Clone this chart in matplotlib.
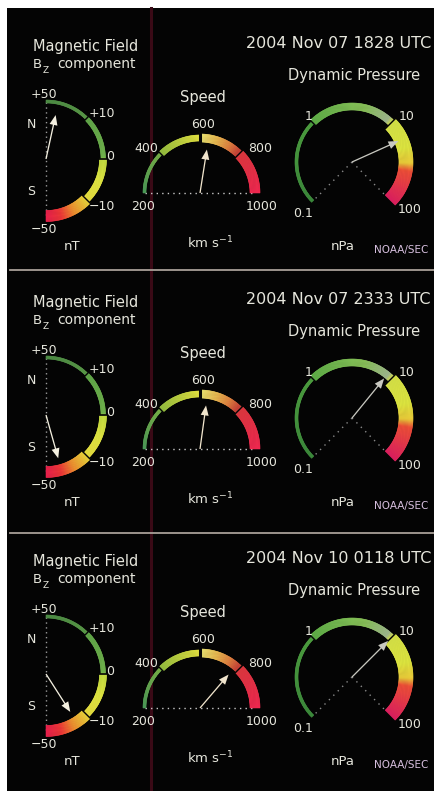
import numpy as np
import matplotlib
matplotlib.use("Agg")
import matplotlib.pyplot as plt
from matplotlib.patches import Polygon, Rectangle
from matplotlib.colors import LinearSegmentedColormap

# ---------------- data ----------------
timestamps = ["2004 Nov 07 1828 UTC", "2004 Nov 07 2333 UTC", "2004 Nov 10 0118 UTC"]
bz_values = [39, -36, -21]          # nT
speed_values = [640, 635, 780]      # km/s
pressure_values = [17, 8.6, 10]     # nPa

bz_ticks = [50, 10, 0, -10, -50]
bz_tick_labels = ["+50", "+10", "0", "\u221210", "\u221250"]
speed_ticks = [200, 400, 600, 800, 1000]
speed_tick_labels = ["200", "400", "600", "800", "1000"]
pressure_ticks = [0.1, 1, 10, 100]
pressure_tick_labels = ["0.1", "1", "10", "100"]

# ---------------- figure ----------------
W, H = 435, 791
fig = plt.figure(figsize=(W / 100, H / 100), dpi=100, facecolor="white")
ax = fig.add_axes([0, 0, 1, 1])
ax.set_xlim(0, W)
ax.set_ylim(H, 0)
ax.axis("off")
ax.add_patch(Rectangle((7, 8), W - 7, H - 8, facecolor="#040404", edgecolor="none", zorder=0))

TXT = "#e6e6dc"


def bz_angle(v):
    return np.interp(v, [-50, -10, 0, 10, 50], [-90, -45, 0, 45, 90])


def speed_angle(v):
    return np.interp(v, [200, 1000], [180, 0])


def pres_angle(v):
    return 135 - 90 * np.log10(v)


def pt(cx, cy, r, a):
    ar = np.deg2rad(a)
    return (cx + r * np.cos(ar), cy - r * np.sin(ar))


bz_cmap = LinearSegmentedColormap.from_list("bz", [
    (0.0, "#4c8a44"), (0.24, "#5a9a48"), (0.26, "#62a84a"), (0.49, "#70b24c"),
    (0.51, "#c4dc40"), (0.62, "#e2e842"), (0.74, "#e8e040"), (0.76, "#ecd23a"),
    (0.85, "#f09030"), (0.92, "#f03838"), (1.0, "#e8204c")])
speed_cmap = LinearSegmentedColormap.from_list("sp", [
    (0.0, "#4a9a58"), (0.24, "#78b048"), (0.26, "#98c040"), (0.49, "#e0e040"),
    (0.51, "#e8e070"), (0.6, "#e8b850"), (0.68, "#e08040"), (0.74, "#c84438"),
    (0.76, "#e03840"), (1.0, "#f02850")])
pres_cmap = LinearSegmentedColormap.from_list("pr", [
    (0.0, "#3c8a3c"), (0.33, "#4ea040"), (0.34, "#60b048"), (0.55, "#88c058"),
    (0.65, "#a0b890"), (0.67, "#d8e448"), (0.78, "#e0e840"), (0.84, "#e8c838"),
    (0.87, "#f05038"), (1.0, "#e02060")])


def band(cx, cy, angle_fn, t_fn, cmap, segs):
    for v0, v1, rin, rout in segs:
        a0, a1 = float(angle_fn(v0)), float(angle_fn(v1))
        n = max(8, int(abs(a1 - a0)))
        angs = np.linspace(a0, a1, n + 1)
        for i in range(n):
            aa = np.linspace(angs[i], angs[i + 1], 4)
            outer = [pt(cx, cy, rout, a) for a in aa]
            inner = [pt(cx, cy, rin, a) for a in aa[::-1]]
            c = cmap(t_fn(0.5 * (angs[i] + angs[i + 1])))
            ax.add_patch(Polygon(outer + inner, closed=True, facecolor=c,
                                 edgecolor=c, lw=0.4, zorder=2))


def divider(cx, cy, a, r0, r1, lw=1.0):
    p0, p1 = pt(cx, cy, r0, a), pt(cx, cy, r1, a)
    ax.plot([p0[0], p1[0]], [p0[1], p1[1]], color="#050505", lw=lw, zorder=3,
            solid_capstyle="butt")


def arrow(cx, cy, a, length, color):
    tip = pt(cx, cy, length, a)
    ax.arrow(cx, cy, tip[0] - cx, tip[1] - cy, width=1.3, head_width=8,
             head_length=10, length_includes_head=True, color=color,
             lw=0, zorder=5)


def txt(x, y, s, size=9, ha="center", color=TXT, **kw):
    ax.text(x, y, s, fontsize=size, ha=ha, va="baseline", color=color,
            family="DejaVu Sans", zorder=6, **kw)


# vertical scan artefact line
ax.plot([151, 151], [8, H], color="#3a0a16", lw=2.2, zorder=1)

offsets = [0, 256, 515]
for k, off in enumerate(offsets):
    # ---------------- Bz gauge ----------------
    cx, cy = 46, 159 + off
    band(cx, cy, bz_angle, lambda a: (90 - a) / 180, bz_cmap,
         [(50, 10, 56, 59), (10, 0, 55, 59.5), (0, -10, 53.5, 60.5), (-10, -50, 51.5, 62.5)])
    for v in [10, -10]:
        divider(cx, cy, bz_angle(v), 50, 64)
    divider(cx, cy, 0, 50, 64, lw=1.2)
    ax.plot([cx, cx], [cy - 57, cy + 57], color="#9a9a9a", lw=1,
            linestyle=(0, (1, 2.5)), zorder=1.5)
    arrow(cx, cy, bz_angle(bz_values[k]), 45, "#f4f0e0")
    bz_pos = [(44, 98), (102, 117), (110, 160), (102, 210), (44, 233)]
    for (x, y), s in zip(bz_pos, bz_tick_labels):
        txt(x, y + off, s)
    txt(31, 128 + off, "N")
    txt(31, 195 + off, "S")
    txt(72, 250 + off, "nT", size=9.5)
    txt(33, 51 + off, "Magnetic Field", size=10.5, ha="left")
    txt(33, 68 + off, "B", size=9.5, ha="left")
    txt(43, 73 + off, "Z", size=6.5, ha="left")
    txt(57, 68 + off, "component", size=10, ha="left")

    # ---------------- Speed gauge ----------------
    cx, cy = 200, 193 + off
    band(cx, cy, speed_angle, lambda a: (180 - a) / 180, speed_cmap,
         [(200, 400, 54, 57), (400, 600, 52, 58), (600, 800, 51, 59), (800, 1000, 50, 60)])
    for v in [400, 800]:
        divider(cx, cy, speed_angle(v), 48, 62)
    divider(cx, cy, speed_angle(600), 48, 62, lw=2.2)
    ax.plot([145, 255], [cy, cy], color="#c8c8c8", lw=1,
            linestyle=(0, (1, 3)), zorder=1.5)
    arrow(cx, cy, speed_angle(speed_values[k]), 44, "#f0e4cc")
    sp_pos = [(143, 210), (146, 152), (203, 128), (260, 152), (262, 210)]
    for (x, y), s in zip(sp_pos, speed_tick_labels):
        txt(x, y + off, s)
    txt(203, 102 + off, "Speed", size=10.5)
    txt(210, 248 + off, r"km s$^{-1}$", size=9.5)

    # ---------------- Pressure gauge ----------------
    cx, cy = 352, 162 + off
    band(cx, cy, pres_angle, lambda a: (225 - a) / 270, pres_cmap,
         [(0.1, 1, 54, 57), (1, 10, 52, 59), (10, 100, 47, 61)])
    for v in [1, 10]:
        divider(cx, cy, pres_angle(v), 45, 63)
    for a, r in [(225, 55), (-45, 48)]:
        p = pt(cx, cy, r, a)
        ax.plot([cx, p[0]], [cy, p[1]], color="#8a8a8a", lw=1,
                linestyle=(0, (1, 3.5)), zorder=1.5)
    arrow(cx, cy, pres_angle(pressure_values[k]), 51, "#c8c8c0")
    pr_pos = [(303, 217), (309, 120), (407, 120), (410, 213)]
    for (x, y), s in zip(pr_pos, pressure_tick_labels):
        txt(x, y + off, s)
    txt(354, 80 + off, "Dynamic Pressure", size=10.5)
    txt(343, 250 + off, "nPa", size=9.5)
    txt(401, 253 + off, "NOAA/SEC", size=7.5, color="#d8c0e0")
    txt(431, 48 + off, timestamps[k], size=11.5, ha="right")

# panel separators
for y in [270, 533]:
    ax.plot([10, W], [y, y], color="#a8a098", lw=1.3, zorder=4)

fig.savefig("out.png", dpi=100, facecolor="white")
